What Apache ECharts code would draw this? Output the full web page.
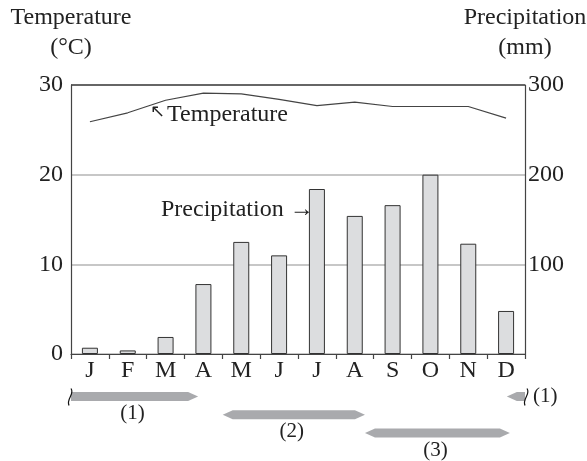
<!DOCTYPE html>
<html>
<head>
<meta charset="utf-8">
<script src="https://cdn.jsdelivr.net/npm/echarts@6/dist/echarts.min.js"></script>
<style>html,body{margin:0;padding:0;background:#fff}#c{width:587px;height:461px}</style>
</head>
<body>
<div id="c"></div>
<script>
const months = ['J','F','M','A','M','J','J','A','S','O','N','D'];
const temperature = [25.9, 26.9, 28.3, 29.1, 29.0, 28.4, 27.7, 28.1, 27.6, 27.6, 27.6, 26.3];
const precipitation = [7, 4, 19, 78, 125, 110, 184, 154, 166, 200, 123, 48];
const seasonStart = [0, 4.01, 7.77, 11.52];
const seasonEnd = [3.36, 7.77, 11.6, 12];
const seasonRow = [0, 1, 2, 0];
const seasonLabels = ['(1)', '(2)', '(3)', '(1)'];
const seasonStartCap = ['break', 'arrow', 'arrow', 'arrow'];
const seasonEndCap = ['arrow', 'arrow', 'arrow', 'break'];
const seasonLabelSide = ['below', 'below', 'below', 'right'];

const FONT = '"Liberation Serif", "Times New Roman", serif';
const TXT = '#222';
const FS = 24;

const chart = echarts.init(document.getElementById('c'), null, {renderer: 'canvas'});

function renderSeason(params, api) {
  const i = api.value(3);
  const x1 = api.coord([api.value(0), 0])[0];
  const x2 = api.coord([api.value(1), 0])[0];
  const baseY = api.coord([0, 0])[1];
  const cy = baseY + 42.5 + api.value(2) * 18.3;
  const h = 9, head = 10;
  const pts = [];
  if (seasonStartCap[i] === 'arrow') pts.push([x1 + head, cy - h / 2]); else pts.push([x1, cy - h / 2]);
  if (seasonEndCap[i] === 'arrow') pts.push([x2 - head, cy - h / 2], [x2, cy], [x2 - head, cy + h / 2]);
  else pts.push([x2, cy - h / 2], [x2, cy + h / 2]);
  if (seasonStartCap[i] === 'arrow') pts.push([x1 + head, cy + h / 2], [x1, cy]); else pts.push([x1, cy + h / 2]);
  const children = [{
    type: 'polygon', shape: {points: pts}, style: {fill: '#a9aaad'}
  }];
  const squiggle = (x) => ({
    type: 'bezierCurve',
    shape: {x1: x + 1, y1: cy - 8, cpx1: x + 5, cpy1: cy - 2, cpx2: x - 4, cpy2: cy + 2, x2: x - 1, y2: cy + 9},
    style: {stroke: '#111', lineWidth: 1.2, fill: null}
  });
  if (seasonStartCap[i] === 'break') children.push(squiggle(x1 - 1));
  if (seasonEndCap[i] === 'break') children.push(squiggle(x2 + 1));
  if (seasonLabelSide[i] === 'right') {
    children.push({type: 'text', style: {text: seasonLabels[i], x: x2 + 8, y: cy, align: 'left', verticalAlign: 'middle', font: '21px ' + FONT, fill: TXT}});
  } else {
    children.push({type: 'text', style: {text: seasonLabels[i], x: (x1 + x2) / 2 - 2, y: cy + 17, align: 'center', verticalAlign: 'middle', font: '21px ' + FONT, fill: TXT}});
  }
  return {type: 'group', children};
}

const option = {
  animation: false,
  backgroundColor: '#fff',
  textStyle: {fontFamily: FONT},
  grid: {left: 71, right: 62, top: 85, bottom: 107, show: false, containLabel: false, outerBoundsMode: 'none'},
  xAxis: [{
    type: 'category',
    data: months,
    axisLine: {lineStyle: {color: '#444', width: 1.2}},
    axisTick: {show: true, length: 5, lineStyle: {color: '#444', width: 1.2}},
    axisLabel: {color: TXT, fontSize: FS, fontFamily: FONT, margin: 5}
  }, {
    type: 'value', min: 0, max: 12, show: false
  }],
  yAxis: [{
    type: 'value', min: 0, max: 30, interval: 10,
    name: 'Temperature\n(°C)', nameLocation: 'end', nameGap: 22,
    nameTextStyle: {color: TXT, fontSize: FS, fontFamily: FONT, align: 'center', verticalAlign: 'bottom', lineHeight: 30},
    axisLine: {show: true, lineStyle: {color: '#444', width: 1.2}},
    axisTick: {show: false},
    axisLabel: {color: TXT, fontSize: FS, fontFamily: FONT, margin: 8},
    splitLine: {show: true, lineStyle: {color: ['#b5b5b5', '#b5b5b5', '#b5b5b5', '#333'], width: 1.5}}
  }, {
    type: 'value', min: 0, max: 300, interval: 100,
    name: 'Precipitation\n(mm)', nameLocation: 'end', nameGap: 22,
    nameTextStyle: {color: TXT, fontSize: FS, fontFamily: FONT, align: 'center', verticalAlign: 'bottom', lineHeight: 30},
    axisLine: {show: true, lineStyle: {color: '#444', width: 1.2}},
    axisTick: {show: false},
    axisLabel: {color: TXT, fontSize: FS, fontFamily: FONT, margin: 3, formatter: v => v === 0 ? '' : String(v)},
    splitLine: {show: false}
  }],
  series: [{
    name: 'Precipitation', type: 'bar', yAxisIndex: 1, data: precipitation, barWidth: 16,
    itemStyle: {color: '#dcdddf', borderColor: '#333', borderWidth: 1}
  }, {
    name: 'Temperature', type: 'line', yAxisIndex: 0, data: temperature,
    symbol: 'none', lineStyle: {color: '#444', width: 1.2}, z: 3
  }, {
    type: 'custom', xAxisIndex: 1, yAxisIndex: 0, clip: false,
    renderItem: renderSeason,
    encode: {x: [0, 1], y: 2},
    data: seasonStart.map((s, i) => [s, seasonEnd[i], seasonRow[i], i])
  }],
  graphic: [{
    type: 'text', left: 150, top: 103,
    style: {
      text: '{a|↖}{t|Temperature}',
      rich: {
        a: {fontSize: 18, fontFamily: 'DejaVu Sans', fill: TXT, padding: [0, 2, 6, 0]},
        t: {fontSize: FS, fontFamily: FONT, fill: TXT}
      }
    }
  }, {
    type: 'text', left: 161, top: 198,
    style: {text: 'Precipitation →', font: FS + 'px ' + FONT, fill: TXT}
  }]
};
chart.setOption(option);
</script>
</body>
</html>
